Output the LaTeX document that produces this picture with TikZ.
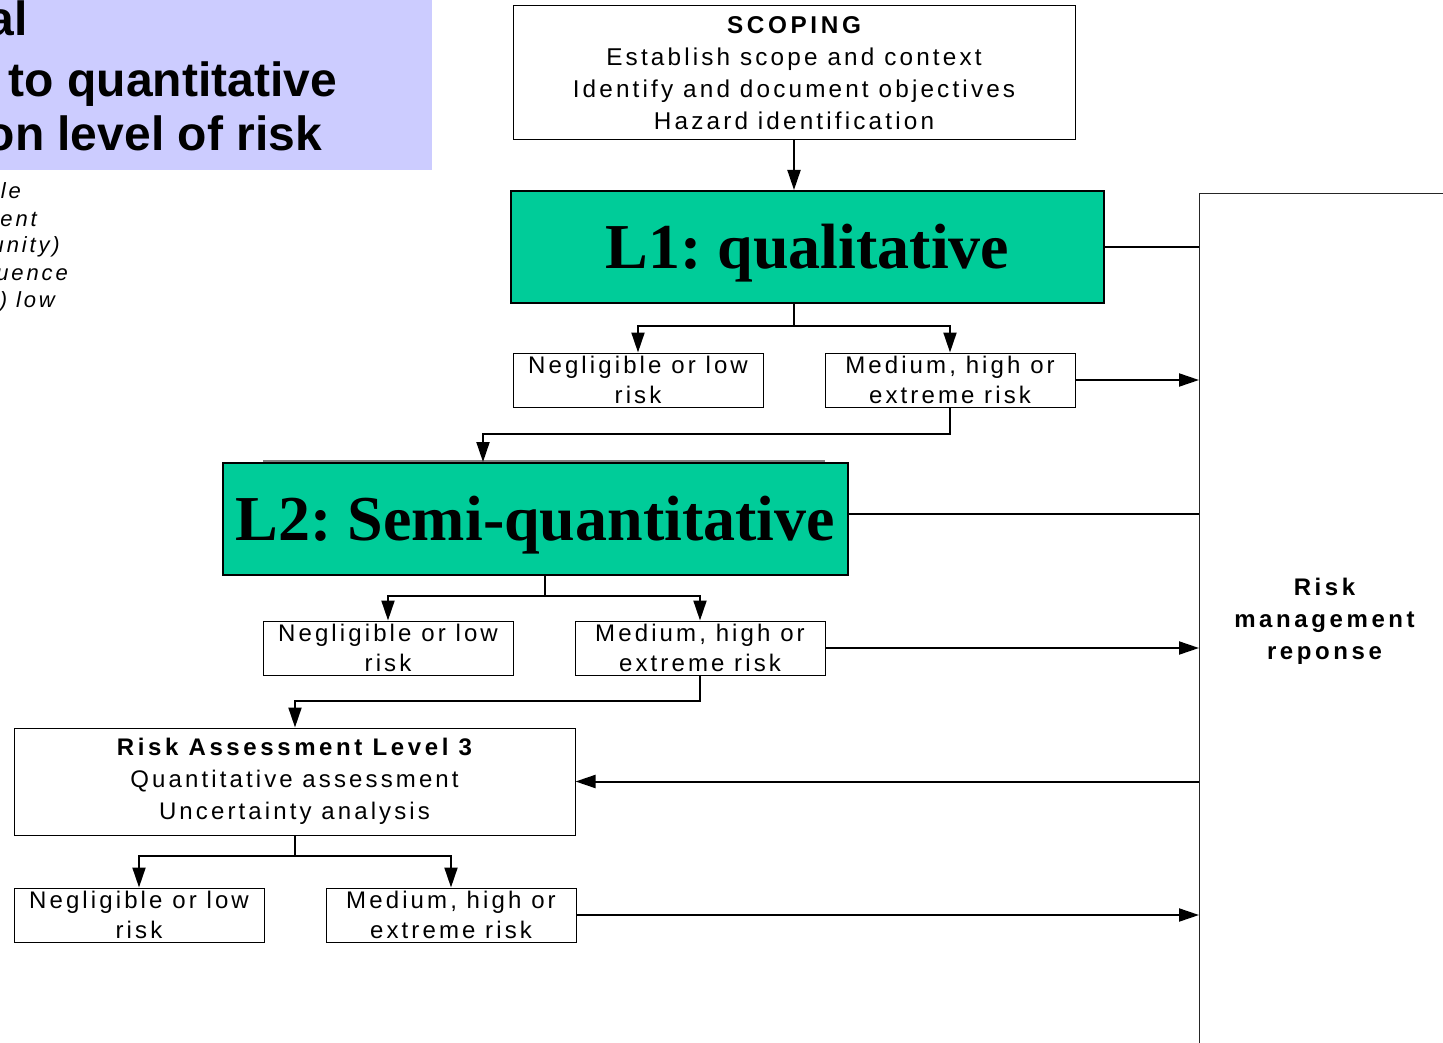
\documentclass[tikz,border=0pt]{standalone}
\usepackage{fontspec}
\setmainfont{Liberation Sans}
\newfontfamily\spc[LetterSpace=13]{Liberation Sans}
\newfontfamily\spcb[LetterSpace=15]{Liberation Sans}
\newfontfamily\hdr{Liberation Sans}
\newfontfamily\lvl{Liberation Serif}
\usetikzlibrary{arrows.meta}
\definecolor{lgreen}{RGB}{0,204,153}
\definecolor{hblue}{RGB}{204,204,255}
\begin{document}
\frenchspacing
\begin{tikzpicture}[x=1pt,y=-1pt,
 box/.style={draw=black, line width=1pt, inner sep=0pt, align=center, font=\spc\fontsize{24}{30}\selectfont},
 riskbox/.style={box, minimum width=250pt, minimum height=54pt},
 levelbox/.style={draw=black, line width=2pt, fill=lgreen, inner sep=0pt, text height=50pt, text depth=7pt, font=\lvl\bfseries\fontsize{64}{70}\selectfont},
 conn/.style={line width=2pt},
 arr/.style={conn, -{Triangle[length=20pt,width=13pt]}},
 headtxt/.style={anchor=base east, inner sep=0pt, font=\hdr\bfseries\fontsize{48}{52}\selectfont},
 sidetxt/.style={anchor=base east, inner sep=0pt, font=\spc\itshape\fontsize{22}{26}\selectfont}]
\useasboundingbox (0,0) rectangle (1443,1043);
\clip (0,0) rectangle (1443,1043);

% header
\fill[hblue] (0,0) rectangle (432,170);
\node[headtxt] (h1) at (28,36) {al};
\node[headtxt] (h2) at (337,97) {to quantitative};
\node[headtxt] (h3) at (322,151) {on level of risk};

\node[sidetxt] (t1) at (21,199) {le};
\node[sidetxt] (t2) at (37,226) {ent};
\node[sidetxt] (t3) at (60,252) {unity)};
\node[sidetxt] (t4) at (68,280) {uence};
\node[sidetxt] (t5) at (55,307) {) low};

% boxes
\node[box, minimum width=562pt, minimum height=134pt, font=\spc\fontsize{24.3}{32}\selectfont] (scope) at (794,73)
  {{\spcb\bfseries SCOPING}\\Establish scope and context\\Identify and document objectives\\Hazard identification};

\node[levelbox, minimum width=593pt, minimum height=112pt] (l1) at (807.5,247) {L1: qualitative};
\node[riskbox] (neg1) at (638,380) {Negligible or low\\risk};
\node[riskbox] (med1) at (950,380) {Medium, high or\\extreme risk};

\draw[gray, line width=1.5pt] (263,461) -- (825,461);
\node[levelbox, minimum width=625pt, minimum height=112pt] (l2) at (535.5,519) {L2: Semi-quantitative};
\node[riskbox] (neg2) at (388,648) {Negligible or low\\risk};
\node[riskbox] (med2) at (700,648) {Medium, high or\\extreme risk};

\node[box, minimum width=561pt, minimum height=107pt, font=\spc\fontsize{24}{32}\selectfont] (l3) at (294.5,781.5)
  {{\spcb\bfseries Risk Assessment Level 3}\\Quantitative assessment\\Uncertainty analysis};
\node[riskbox] (neg3) at (139,915) {Negligible or low\\risk};
\node[riskbox] (med3) at (451,915) {Medium, high or\\extreme risk};

\node[draw=black!85, line width=1pt, minimum width=250pt, minimum height=856pt, anchor=north west,
  inner sep=0pt, align=center, font=\spcb\bfseries\fontsize{24}{32}\selectfont] (rmr) at (1199,193)
  {Risk\\management\\reponse};

% connectors
\coordinate (s1) at (794,326);
\coordinate (j1) at (483,434);
\coordinate (s2) at (545,596);
\coordinate (j2) at (295,701);
\coordinate (s3) at (295,856);

\draw[arr] (scope.south) -- (scope.south |- l1.north);
\draw[conn] (l1.south -| s1) -- (s1);
\draw[arr] (s1) -| (neg1.north);
\draw[arr] (s1) -| (med1.north);
\draw[conn] (l1.east) -- (l1.east -| rmr.west);
\draw[arr] (med1.east) -- (med1.east -| rmr.west);
\draw[arr] (med1.south) |- (j1) -- (j1 |- l2.north);

\draw[conn] (l2.east |- 0,514) -- (rmr.west |- 0,514);
\draw[conn] (l2.south -| s2) -- (s2);
\draw[arr] (s2) -| (neg2.north);
\draw[arr] (s2) -| (med2.north);
\draw[arr] (med2.east) -- (med2.east -| rmr.west);
\draw[arr] (med2.south) |- (j2) -- (j2 |- l3.north);

\draw[arr] (rmr.west |- l3.east) -- (l3.east);
\draw[conn] (l3.south -| s3) -- (s3);
\draw[arr] (s3) -| (neg3.north);
\draw[arr] (s3) -| (med3.north);
\draw[arr] (med3.east) -- (med3.east -| rmr.west);
\end{tikzpicture}
\end{document}
